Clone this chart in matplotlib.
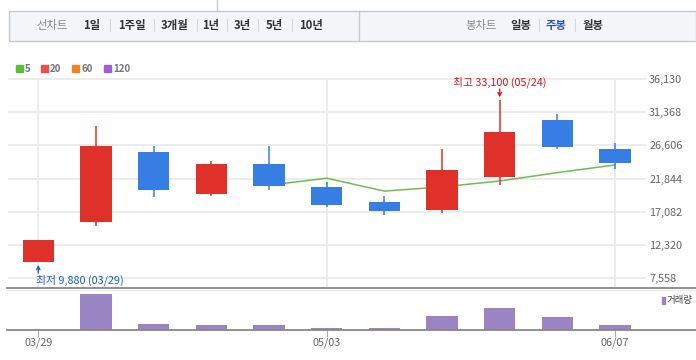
import numpy as np
import matplotlib
matplotlib.use("Agg")
import matplotlib.pyplot as plt
from matplotlib.patches import Rectangle
from matplotlib.lines import Line2D

plt.rcParams['font.family'] = ['Noto Sans CJK KR', 'DejaVu Sans']

# ---- data ----
dates = ['03/29', '04/05', '04/12', '04/19', '04/26', '05/03', '05/10',
         '05/17', '05/24', '05/31', '06/07']
opens = [9880, 15590, 25590, 19610, 23870, 20570, 18420, 17310, 22050, 30180, 26020]
highs = [12970, 29320, 26590, 24440, 26590, 21290, 19280, 26020, 33100, 31040, 26880]
lows = [9880, 15020, 19180, 19320, 20280, 17740, 16600, 16880, 20900, 26020, 23190]
closes = [12970, 26590, 20280, 23870, 20750, 18030, 17170, 23010, 28460, 26350, 24050]
ma5 = [np.nan, np.nan, np.nan, np.nan, 20900, 21900, 20050, 20650, 21500, 22700, 23800]
volume = [0.3, 36.0, 6.2, 5.2, 5.3, 2.2, 2.2, 14.5, 22.3, 13.3, 5.3]
ytick_vals = [7558, 12320, 17082, 21844, 26606, 31368, 36130]
date_ticks = [0, 5, 10]
legend_items = ['5', '20', '60', '120']
legend_colors = ['#5cbf3c', '#f04a4a', '#f5821f', '#9e5fd0']
tool_left = ['1일', '1주일', '3개월', '1년', '3년', '5년', '10년']
tool_right = ['일봉', '주봉', '월봉']

RED = '#e0302a'
BLUE = '#377ee4'
PURPLE = '#9a84c3'
GREEN = '#6cbf4f'
GRID = '#ebebeb'

W, H = 696, 360
fig = plt.figure(figsize=(W / 100, H / 100), dpi=100)

def fx(x):
    return x / W

def fy(y):
    return 1 - y / H

# ---- main axes ----
L, R = 9, 645
ax = fig.add_axes([fx(L), fy(287.5), fx(R) - fx(L), (287.5 - 79) / H])
x = np.arange(len(dates))
ax.set_xlim(-0.508, 10.52)
ax.set_ylim(6224, 36130)
for s in ax.spines.values():
    s.set_visible(False)
for v in ytick_vals:
    ax.axhline(v, color=GRID, lw=1.3, zorder=0, clip_on=False)
for i in date_ticks:
    ax.axvline(i, color=GRID, lw=1.3, zorder=0)

ax.plot(x, ma5, color=GREEN, lw=1.1, zorder=1)
cw = 0.54
for i in range(len(dates)):
    up = closes[i] >= opens[i]
    c = RED if up else BLUE
    ax.vlines(i, lows[i], highs[i], color=c, lw=1.1, zorder=2)
    lo = min(opens[i], closes[i])
    ax.bar(i, abs(closes[i] - opens[i]), bottom=lo, width=cw, color=c,
           zorder=3, linewidth=0)

ax.yaxis.tick_right()
ax.set_yticks(ytick_vals)
ax.set_yticklabels([f'{v:,}' for v in ytick_vals], color='#666', fontsize=7.8)
ax.tick_params(axis='y', length=0, pad=3)
ax.set_xticks([])

# high / low annotations
ih = int(np.argmax(highs))
ax.annotate('', xy=(ih, highs[ih]), xytext=(0, 11), textcoords='offset pixels',
            arrowprops=dict(arrowstyle='->', color='#e8141a', lw=1,
                            shrinkA=0, shrinkB=2, mutation_scale=6), zorder=5)
ax.annotate(f'최고 {highs[ih]:,} ({dates[ih]})', xy=(ih, highs[ih]),
            xytext=(0, 17.5), textcoords='offset pixels', ha='center',
            va='center', color='#e8141a', fontsize=7.8, annotation_clip=False)
il = int(np.argmin(lows))
ax.annotate('', xy=(il, lows[il]), xytext=(0, -11), textcoords='offset pixels',
            arrowprops=dict(arrowstyle='->', color='#1a5fd8', lw=1,
                            shrinkA=0, shrinkB=2, mutation_scale=6), zorder=5)
ax.annotate(f'최저 {lows[il]:,} ({dates[il]})', xy=(il, lows[il]),
            xytext=(-2.5, -18.5), textcoords='offset pixels', ha='left',
            va='center', color='#1a5fd8', fontsize=7.8, annotation_clip=False)

# ---- volume axes ----
vax = fig.add_axes([fx(L), fy(330.3), fx(R) - fx(L), (330.3 - 287.5) / H])
vax.set_xlim(-0.508, 10.52)
vax.set_ylim(0, 42.8)
for s in vax.spines.values():
    s.set_visible(False)
vax.bar(x, volume, width=cw, color=PURPLE, linewidth=0)
vax.set_yticks([])
vax.set_xticks(date_ticks)
vax.set_xticklabels([dates[i] for i in date_ticks], color='#666', fontsize=7.8)
vax.tick_params(axis='x', length=5, color='#aaaaaa', pad=0.5)

# full-width separator lines
fig.add_artist(Line2D([fx(7), 1], [fy(287.5)] * 2, color='#888888', lw=1.3))
fig.add_artist(Line2D([fx(7), 1], [fy(289.5)] * 2, color='#eeeeee', lw=1))
fig.add_artist(Line2D([fx(7), 1], [fy(330.3)] * 2, color='#888888', lw=1.3))

# volume legend
fig.add_artist(Rectangle((fx(662), fy(303.5)), 3 / W, 7 / H, color=PURPLE,
                         transform=fig.transFigure))
fig.text(fx(667), fy(300.3), '거래량', fontsize=6.8, color='#444',
         ha='left', va='center')

# MA legend
lx = [16, 41, 72, 104]
for xx, lab, col in zip(lx, legend_items, legend_colors):
    fig.add_artist(Rectangle((fx(xx), fy(72)), 7 / W, 7 / H, color=col,
                             transform=fig.transFigure))
    fig.text(fx(xx + 9), fy(68.8), lab, fontsize=7, color='#777',
             fontweight='bold', ha='left', va='center')

# ---- toolbar ----
fig.add_artist(Line2D([fx(217)] * 2, [fy(0), fy(11)], color='#c8c8c8', lw=1))
fig.add_artist(Rectangle((fx(9), fy(41)), fx(696) - fx(9), 30 / H,
                         facecolor='#f4f5f8', edgecolor='#c6c8cc', lw=1,
                         transform=fig.transFigure))
fig.add_artist(Line2D([fx(359)] * 2, [fy(11), fy(41)], color='#c6c8cc', lw=1))
ty = fy(25)
fig.text(fx(52), ty, '선차트', fontsize=8.2, color='#8a8a8a', ha='center', va='center')
lc = [92, 132, 175, 210.5, 242, 274, 311]
seps = [110, 154, 197, 227, 258, 292]
for c, t in zip(lc, tool_left):
    fig.text(fx(c), ty, t, fontsize=8.2, color='#333', fontweight='bold',
             ha='center', va='center')
for s in seps + [539, 575]:
    fig.add_artist(Line2D([fx(s)] * 2, [fy(19), fy(31)], color='#d8d8d8', lw=0.8))
fig.text(fx(481), ty, '봉차트', fontsize=8.2, color='#8a8a8a', ha='center', va='center')
rc = [521, 556.5, 592.5]
rcol = ['#333', '#2c54b5', '#333']
for c, t, col in zip(rc, tool_right, rcol):
    fig.text(fx(c), ty, t, fontsize=8.2, color=col, fontweight='bold',
             ha='center', va='center')

fig.savefig('out.png', dpi=100)
